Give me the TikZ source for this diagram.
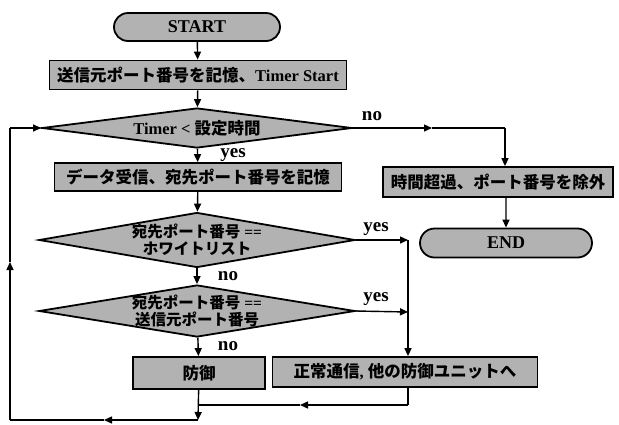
\documentclass[tikz,border=0pt]{standalone}
\usepackage{fontspec}
\setmainfont{Liberation Serif}
\newfontfamily\jp{Noto Sans CJK JP}
\usetikzlibrary{shapes.geometric,shapes.misc,arrows.meta}
\definecolor{fillc}{gray}{0.70}
\begin{document}
\begin{tikzpicture}[x=1pt,y=-1pt,
  box/.style={draw, line width=1.8pt, fill=fillc, rectangle, inner sep=0pt, font=\bfseries\fontsize{16.5}{18}\selectfont},
  capsule/.style={draw, line width=1.8pt, fill=fillc, rounded rectangle, inner sep=0pt, font=\bfseries\fontsize{18}{20}\selectfont},
  dia/.style={draw, line width=1.8pt, fill=fillc, diamond, inner sep=0pt},
  diatext/.style={inner sep=0pt, align=center, font=\bfseries\fontsize{15.5}{17}\selectfont},
  lbl/.style={inner sep=0pt, font=\bfseries\fontsize{19}{19}\selectfont},
  conn/.style={line width=1.4pt},
  arr/.style={conn, -{Triangle[length=8pt,width=7pt]}},
]
\useasboundingbox (0,0) rectangle (619,424);
% nodes
\node[capsule, minimum width=166pt, minimum height=28pt] (start) at (197,27) {START};
\node[box, minimum width=297pt, minimum height=29pt] (b1) at (198,75) {{\jp 送信元ポート番号を記憶、}Timer Start};
\node[dia, minimum width=310pt, minimum height=40pt] (d1) at (197,128) {};
\node[diatext, font=\bfseries\fontsize{16.5}{18}\selectfont] (d1t) at (d1) {Timer < {\jp 設定時間}};
\node[box, minimum width=287pt, minimum height=28pt] (b2) at (198,177) {{\jp データ受信、宛先ポート番号を記憶}};
\node[dia, minimum width=316pt, minimum height=55pt] (d2) at (197,240) {};
\node[diatext] (d2t) at (d2) {{\jp 宛先ポート番号} ==\\{\jp ホワイトリスト}};
\node[dia, minimum width=316pt, minimum height=52pt] (d3) at (197,311) {};
\node[diatext] (d3t) at (d3) {{\jp 宛先ポート番号} ==\\{\jp 送信元ポート番号}};
\node[box, minimum width=132pt, minimum height=32pt] (def) at (199,373) {{\jp 防御}};
\node[box, minimum width=265pt, minimum height=30pt] (ok) at (405,372) {{\jp 正常通信}, {\jp 他の防御ユニットへ}};
\node[box, minimum width=230pt, minimum height=30pt] (b3) at (498,182) {{\jp 時間超過、ポート番号を除外}};
\node[capsule, minimum width=172pt, minimum height=29pt] (end) at (506,243) {END};
% coordinates
\coordinate (nocorner) at (505,128);
\coordinate (nomid) at (432,128);
\coordinate (yes1) at (408,240);
\coordinate (yes2) at (408,312);
\coordinate (join) at (198,405);
\coordinate (okcorner) at (408,405);
\coordinate (okmid) at (300,405);
\coordinate (bot) at (198,420);
\coordinate (botmid) at (104,420);
\coordinate (bl) at (10,420);
\coordinate (lmid) at (10,262);
\coordinate (tl) at (10,128);
% connectors
\draw[arr] (start) -- (b1);
\draw[arr] (b1) -- (d1);
\draw[arr] (d1) -- (b2);
\draw[arr] (d1.east) -- (nomid);
\draw[conn] (nomid) -- (nocorner);
\draw[arr] (nocorner) -- (nocorner |- b3.north);
\draw[arr] (b3.south -| end) -- (end);
\draw[arr] (b2) -- (d2);
\draw[arr] (d2.east) -- (yes1);
\draw[arr] (yes1) -- (yes1 |- ok.north);
\draw[arr] (d2) -- (d3);
\draw[arr] (d3.east) -- (yes2);
\draw[arr] (d3) -- (def);
\draw[arr] (def) -- (bot);
\draw[conn] (okcorner |- ok.south) -- (okcorner);
\draw[arr] (okcorner) -- (okmid);
\draw[conn] (okmid) -- (join);
\draw[arr] (bot) -- (botmid);
\draw[conn] (botmid) -- (bl);
\draw[arr] (bl) -- (lmid);
\draw[conn] (lmid) -- (tl);
\draw[arr] (tl) -- (d1.west);
% labels
\node[lbl] (lno1) at (372,116) {no};
\node[lbl] (lyes1) at (233,155) {yes};
\node[lbl] (lyes2) at (376,229) {yes};
\node[lbl] (lno2) at (228,276) {no};
\node[lbl] (lyes3) at (376,299) {yes};
\node[lbl] (lno3) at (228,346) {no};
\end{tikzpicture}
\end{document}
